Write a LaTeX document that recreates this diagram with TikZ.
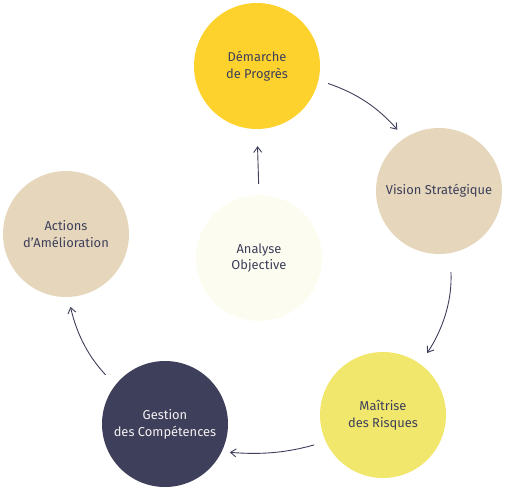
\documentclass[tikz,border=0pt]{standalone}
\usepackage{fontspec}
\setmainfont{Fira Sans}
\usetikzlibrary{arrows.meta}
\definecolor{ink}{HTML}{3E405B}
\definecolor{cyel}{HTML}{FDD22C}
\definecolor{cbei}{HTML}{E6D7BC}
\definecolor{clem}{HTML}{F1E76D}
\definecolor{ccre}{HTML}{FDFCF0}
\definecolor{cwht}{HTML}{F2F0F2}
\begin{document}
\begin{tikzpicture}[x=1pt,y=-1pt,
  disc/.style={circle,minimum size=126pt,inner sep=0pt,align=center,text=ink,
    font=\fontsize{12.9}{16.7}\selectfont},
  flow/.style={draw=ink,line width=0.9pt,-{Straight Barb[length=5.5pt,width=8pt,line width=0.9pt]}}]
\useasboundingbox (0,0) rectangle (506,490);
\node[disc,fill=cyel] (dem) at (257,66) {Démarche\\de Progrès};
\node[disc,fill=cbei] (vis) at (439,191) {Vision Stratégique};
\node[disc,fill=clem] (mai) at (383,415) {Maîtrise\\des Risques};
\node[disc,fill=ink,text=cwht] (ges) at (165,424) {Gestion\\des Compétences};
\node[disc,fill=cbei] (act) at (66,234) {Actions\\d’Amélioration};
\node[disc,fill=ccre] (ana) at (259,258) {Analyse\\Objective};
\draw[flow,shorten <=10pt,shorten >=11pt] (dem.-13) to[bend left=15] (vis.123);
\draw[flow,shorten <=19pt,shorten >=13pt] (vis.-80) to[bend left=18] (mai.54);
\draw[flow,shorten <=12pt,shorten >=8pt] (mai.-155) to[bend left=10] (ges.-26);
\draw[flow,shorten <=14pt,shorten >=10pt] (ges.142) to[bend left=15] (act.-88);
\draw[flow,shorten <=11pt,shorten >=17pt] (ana.north) -- (dem.south);
\end{tikzpicture}
\end{document}
